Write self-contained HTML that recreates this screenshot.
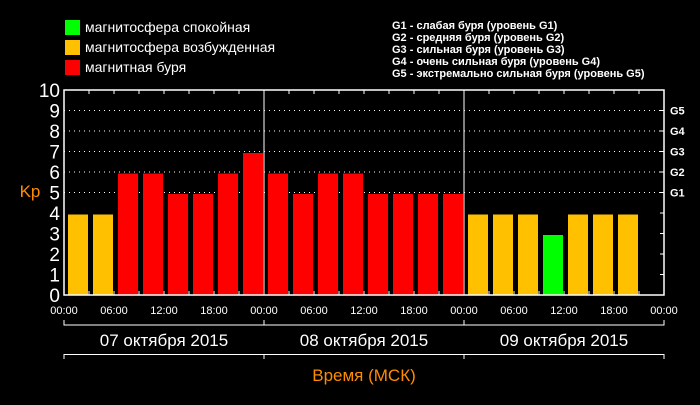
<!DOCTYPE html>
<html><head><meta charset="utf-8"><style>
body{margin:0;background:#000;width:700px;height:400px;overflow:hidden}
svg text{font-family:"Liberation Sans","DejaVu Sans",sans-serif}
</style></head><body>
<svg id="c" width="700" height="400" viewBox="0 0 700 400">
<g>
<rect x="65" y="20" width="15" height="15" fill="#00ff00"/>
<text x="85" y="32" fill="#fff" font-size="14">магнитосфера спокойная</text>
<rect x="65" y="40" width="15" height="15" fill="#ffc000"/>
<text x="85" y="52" fill="#fff" font-size="14">магнитосфера возбужденная</text>
<rect x="65" y="60" width="15" height="15" fill="#ff0000"/>
<text x="85" y="72" fill="#fff" font-size="14">магнитная буря</text>
</g>
<g font-size="11" fill="#fff" font-weight="bold">
<text x="392" y="29">G1 - слабая буря (уровень G1)</text>
<text x="392" y="41">G2 - средняя буря (уровень G2)</text>
<text x="392" y="53">G3 - сильная буря (уровень G3)</text>
<text x="392" y="65">G4 - очень сильная буря (уровень G4)</text>
<text x="392" y="77">G5 - экстремально сильная буря (уровень G5)</text>
</g>
<g id="grid"></g><g id="bars"></g><g id="axes"></g>
<text x="30" y="197" fill="#ff8c00" font-size="17" text-anchor="middle">Kp</text>
<text x="364" y="381" fill="#ff8c00" font-size="17" text-anchor="middle">Время (МСК)</text>
</svg>
<script>
const values=[4,4,6,6,5,5,6,7, 6,5,6,6,5,5,5,5, 4,4,4,3,4,4,4];
const yTicks=[0,1,2,3,4,5,6,7,8,9,10];
const gLabels=["G1","G2","G3","G4","G5"];
const gLevels=[5,6,7,8,9];
const xLabels=["00:00","06:00","12:00","18:00","00:00","06:00","12:00","18:00","00:00","06:00","12:00","18:00","00:00"];
const dates=["07 октября 2015","08 октября 2015","09 октября 2015"];
const NS="http://www.w3.org/2000/svg";
const X0=64,X1=664,Y0=295,YT=90,SLOTS=24;
const xs=i=>X0+i*(X1-X0)/SLOTS;
const ys=v=>Y0-v*(Y0-YT)/10;
function mk(tag,attrs,parent,txt){const e=document.createElementNS(NS,tag);for(const k in attrs)e.setAttribute(k,attrs[k]);if(txt!==undefined)e.textContent=txt;document.getElementById(parent).appendChild(e);return e;}
gLevels.forEach((v,i)=>{
 const l=mk('line',{x1:X0,x2:X1,y1:ys(v),y2:ys(v),stroke:'#fff','stroke-width':1,'stroke-dasharray':'1,4'},'grid');
 
 
 const t=mk('text',{x:X1+6,y:ys(v)+4,fill:'#fff','font-size':11,'font-weight':'bold'},'axes',gLabels[i]);
 
 
});
values.forEach((v,i)=>{
 const c=v>=5?'#ff0000':(v>=4?'#ffc000':'#00ff00');
 const r=mk('rect',{x:xs(i)+4,y:ys(v)+1.5,width:20,height:Y0-ys(v)-1.5,fill:c},'bars');
 
 
});
const fr=mk('rect',{x:X0,y:YT,width:X1-X0,height:Y0-YT,fill:'none',stroke:'#fff','stroke-width':1.5},'axes');


[8,16].forEach(i=>{const l=mk('line',{x1:xs(i),x2:xs(i),y1:YT,y2:Y0,stroke:'#fff','stroke-width':1},'axes');
 
 });
for(let i=1;i<SLOTS;i++){
 const a=mk('line',{x1:xs(i),x2:xs(i),y1:Y0,y2:Y0-4,stroke:'#fff'},'axes');
 
 
 const b=mk('line',{x1:xs(i),x2:xs(i),y1:YT,y2:YT+4,stroke:'#fff'},'axes');
 
 
}
yTicks.forEach(v=>{
 const t=mk('text',{x:60,y:ys(v)+7,fill:'#fff','font-size':19,'text-anchor':'end'},'axes',String(v));
 
 
 if(v>0&&v<10){const l=mk('line',{x1:X1,x2:X1-4,y1:ys(v),y2:ys(v),stroke:'#fff'},'axes');
 
 }
});
xLabels.forEach((s,i)=>{
 const t=mk('text',{x:xs(i*2),y:314,fill:'#fff','font-size':11,'text-anchor':'middle'},'axes',s);
 
 
});
dates.forEach((d,i)=>{
 const a=xs(i*8),b=xs(i*8+8);
 const p=mk('path',{d:`M${a},320V325H${b}V320M${a},359V354.5H${b}V359`,stroke:'#fff',fill:'none','stroke-width':1},'axes');
 
 
 const t=mk('text',{x:(a+b)/2,y:346,fill:'#fff','font-size':17,'text-anchor':'middle'},'axes',d);
 
 
});
</script>
</body></html>
